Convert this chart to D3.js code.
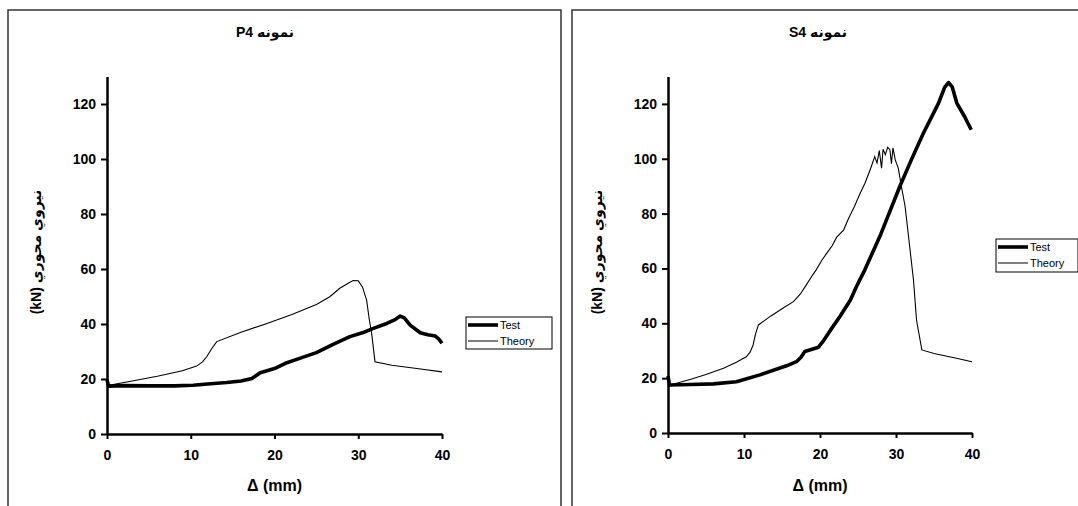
<!DOCTYPE html>
<html>
<head>
<meta charset="utf-8">
<script src="https://cdn.jsdelivr.net/npm/d3@7"></script>
<style>
	body { margin: 0; background: #fff; }
	svg { display: block; }
	text { font-family: "Liberation Sans", "DejaVu Sans", Arial, sans-serif; }
</style>
</head>
<body>
<script>

// ------------------------ DATA ------------------------
// [delta (mm), axial force (kN)]
var p4Test = [
	[0, 19.6], [0.2, 17.4], [2, 17.6], [5, 17.5], [8, 17.5], [10.3, 17.7], [12, 18.2],
	[14.3, 18.7], [16, 19.3], [17.3, 20.2], [18.3, 22.3], [20, 23.8], [21.3, 25.7],
	[23, 27.5], [25, 29.6], [27, 32.6], [29, 35.4], [30.5, 36.8], [31.8, 38.4],
	[33.4, 40.2], [34.4, 41.6], [35, 42.9], [35.5, 42.2], [36.2, 39.6], [37.4, 36.8],
	[38.3, 36.1], [39.2, 35.6], [39.6, 34.6], [40, 33]
];
var p4Theory = [
	[0.4, 17.8], [3, 19.3], [6, 21], [9, 23], [10.7, 24.7], [11.4, 26.2], [11.9, 28.1],
	[12.5, 31], [13.1, 33.6], [16, 37], [19.1, 40.2], [22, 43.4], [25, 47.1], [26.6, 49.9],
	[27.8, 53], [29, 55.2], [29.4, 55.8], [30, 55.7], [30.5, 53.5], [31, 48.7],
	[31.3, 42], [31.6, 36.6], [32, 26.3], [34, 25], [37, 23.8], [40, 22.6]
];
var s4Test = [
	[0, 20.8], [0.2, 17.5], [3, 17.7], [6, 17.9], [9, 18.7], [12.1, 21.2], [15.6, 24.5],
	[16.9, 26], [17.5, 27.6], [18, 29.7], [19.8, 31.3], [20.5, 33.8], [21.4, 37.6],
	[22.6, 42.4], [24, 48.5], [24.8, 53.4], [25.9, 59.5], [28, 72.5], [30.5, 89.9],
	[32, 99.5], [33.6, 109.3], [35.6, 120.3], [36.4, 126], [36.9, 127.8], [37.4, 126.2],
	[38, 120.3], [39, 115.5], [39.9, 110.6]
];
var s4Theory = [
	[0.3, 17.5], [3, 19.6], [5, 21.3], [7.3, 23.6], [9, 25.8], [10.3, 27.8], [10.8, 29.5],
	[11.2, 32.1], [11.5, 36], [11.9, 39.4], [13.5, 42.6], [15, 45.3], [16.5, 47.9],
	[17.4, 50.6], [18.2, 54], [19, 57.5], [19.5, 59.5], [20.2, 62.8], [20.9, 65.6],
	[21.6, 68.3], [22.2, 71.4], [23.1, 74], [23.8, 78.5], [24.5, 82.4], [25.3, 87.5],
	[25.9, 91], [26.6, 96], [27.2, 100.8], [27.5, 98.5], [27.8, 103], [28.1, 96.6],
	[28.3, 103.5], [28.6, 101.5], [28.9, 104.2], [29.2, 103.3], [29.4, 98.2],
	[29.6, 104], [29.9, 99.6], [30.3, 96.6], [30.7, 90], [31.2, 82.6], [31.8, 68],
	[32.3, 55.8], [32.7, 41.2], [33.4, 30.3], [35, 29], [37.5, 27.5], [40, 26]
];

var xTicks = [0, 10, 20, 30, 40];
var yTicks = [0, 20, 40, 60, 80, 100, 120];
var titles = ['P4 نمونه', 'S4 نمونه'];
var seriesNames = ['Test', 'Theory'];
var xLabel = 'Δ (mm)';
var yLabel = '(kN) نيروي محوري';

// ------------------------ LAYOUT ------------------------
var W = 1078, H = 506;

// one entry per panel: frame, plot box, legend box
var panels = [
	{ title: titles[0], test: p4Test, theory: p4Theory,
	  frame: { x: 8, y: 10, w: 553 },
	  plot: { x0: 107, x1: 442, y0: 434, y1: 76.5 },
	  titleX: 265, legend: { x: 466, y: 317, w: 86, h: 32 } },
	{ title: titles[1], test: s4Test, theory: s4Theory,
	  frame: { x: 572, y: 10, w: 520 },
	  plot: { x0: 668, x1: 972, y0: 433, y1: 76.5 },
	  titleX: 818, legend: { x: 996, y: 239, w: 82, h: 33 } }
];

var svg = d3.select('body')
	.append('svg')
	.attr('width', W)
	.attr('height', H);

panels.forEach(function(p) {

	// outer frame (open at the bottom, runs off the page)
	svg.append('path')
		.attr('d', 'M' + p.frame.x + ',' + (H + 5) + 'V' + p.frame.y + 'H' + (p.frame.x + p.frame.w) + 'V' + (H + 5))
		.attr('fill', 'none')
		.attr('stroke', '#333')
		.attr('stroke-width', 1.5);

	var x = d3.scaleLinear().domain([0, 40]).range([p.plot.x0, p.plot.x1]);
	var y = d3.scaleLinear().domain([0, 130]).range([p.plot.y0, p.plot.y1]);

	// ------------------------ AXES ------------------------
	var xAxis = svg.append('g')
		.attr('transform', 'translate(0,' + p.plot.y0 + ')')
		.call(d3.axisBottom(x).tickValues(xTicks).tickSize(5).tickSizeOuter(0).tickPadding(11));

	var yAxis = svg.append('g')
		.attr('transform', 'translate(' + p.plot.x0 + ',0)')
		.call(d3.axisLeft(y).tickValues(yTicks).tickSize(6).tickSizeOuter(0).tickPadding(5));

	[xAxis, yAxis].forEach(function(a) {
		a.select('.domain').attr('stroke', '#000').attr('stroke-width', 2.5);
		a.selectAll('.tick line').attr('stroke', '#000').attr('stroke-width', 2);
		a.selectAll('.tick text')
			.attr('fill', '#000')
			.style('font-size', '14px')
			.style('font-weight', 'bold')
			.style('font-family', '"Liberation Sans", Arial, sans-serif');
	});

	// ------------------------ CURVES ------------------------
	var line = d3.line()
		.x(function(d) { return x(d[0]); })
		.y(function(d) { return y(d[1]); });

	svg.append('path')
		.datum(p.theory)
		.attr('d', line)
		.attr('fill', 'none')
		.attr('stroke', '#000')
		.attr('stroke-width', 1.1);

	svg.append('path')
		.datum(p.test)
		.attr('d', line)
		.attr('fill', 'none')
		.attr('stroke', '#000')
		.attr('stroke-width', 3.6)
		.attr('stroke-linejoin', 'round');

	// ------------------------ TEXT ------------------------
	svg.append('text')
		.text(p.title)
		.attr('x', p.titleX)
		.attr('y', 37)
		.attr('text-anchor', 'middle')
		.style('font-size', '14px')
		.style('font-weight', 'bold');

	svg.append('text')
		.text(xLabel)
		.attr('x', (p.plot.x0 + p.plot.x1) / 2)
		.attr('y', 491)
		.attr('text-anchor', 'middle')
		.style('font-size', '16px')
		.style('font-weight', 'bold');

	svg.append('text')
		.text(yLabel)
		.attr('transform', 'translate(' + (p.plot.x0 - 66) + ',252) rotate(-90)')
		.attr('text-anchor', 'middle')
		.style('font-size', '14px')
		.style('font-weight', 'bold');

	// ------------------------ LEGEND ------------------------
	var lg = svg.append('g')
		.attr('transform', 'translate(' + p.legend.x + ',' + p.legend.y + ')');

	lg.append('rect')
		.attr('width', p.legend.w)
		.attr('height', p.legend.h)
		.attr('fill', '#fff')
		.attr('stroke', '#000')
		.attr('stroke-width', 1);

	seriesNames.forEach(function(name, i) {
		var ly = 8 + i * 16;
		lg.append('line')
			.attr('x1', 2).attr('x2', 32)
			.attr('y1', ly).attr('y2', ly)
			.attr('stroke', '#000')
			.attr('stroke-width', i === 0 ? 3.6 : 1);
		lg.append('text')
			.text(name)
			.attr('x', 34)
			.attr('y', ly + 4)
			.style('font-size', '11px');
	});
});

</script>
</body>
</html>
